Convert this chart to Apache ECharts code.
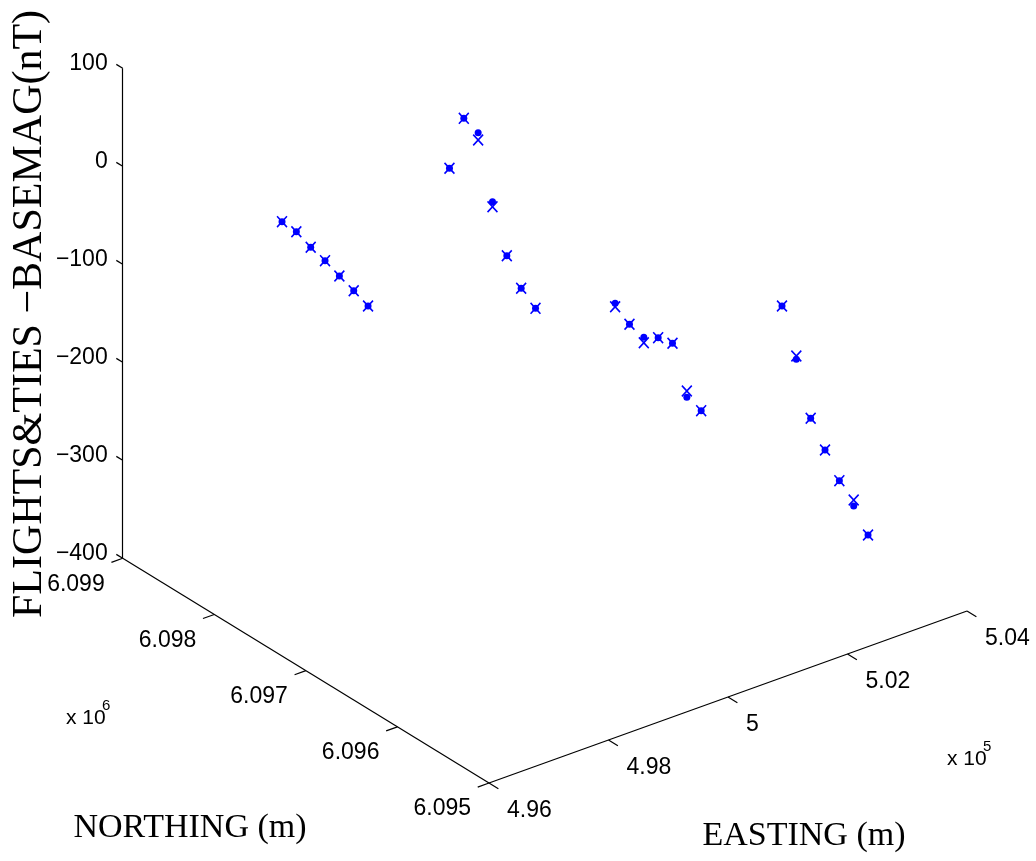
<!DOCTYPE html>
<html>
<head>
<meta charset="utf-8">
<script src="https://cdn.jsdelivr.net/npm/echarts@6/dist/echarts.min.js"></script>
<style>
  html, body { margin: 0; padding: 0; background: #fff; }
  #chart { width: 1036px; height: 861px; }
</style>
</head>
<body>
<div id="chart"></div>
<script>
// survey points (4 lines x 7 stations)
const easting = [
  497900, 498140, 498380, 498620, 498860, 499100, 499340,
  499170, 499410, 499650, 499890, 500130, 500370, 500610,
  500410, 500650, 500890, 501130, 501370, 501610, 501850,
  501670, 501910, 502150, 502390, 502630, 502870, 503110
];
const northing = [
  6098500, 6098500, 6098500, 6098500, 6098500, 6098500, 6098500,
  6097500, 6097500, 6097500, 6097500, 6097500, 6097500, 6097500,
  6096500, 6096500, 6096500, 6096500, 6096500, 6096500, 6096500,
  6095500, 6095500, 6095500, 6095500, 6095500, 6095500, 6095500
];
// FLIGHTS - BASEMAG (x markers)
const flights = [
  -69.5, -85.0, -106.2, -125.1, -146.0, -166.3, -187.2,
  14.4, 60.1, 32.7, -40.6, -95.9, -134.4, -160.1,
  -96.7, -119.9, -144.0, -144.1, -155.1, -209.1, -234.4,
  -66.3, -122.6, -191.4, -229.0, -265.6, -290.6, -331.6
];
// TIES - BASEMAG (dots)
const ties = [
  -69.5, -85.0, -106.2, -125.1, -146.0, -166.3, -187.2,
  14.4, 60.1, 40.2, -35.5, -95.9, -134.4, -160.1,
  -93.2, -119.9, -138.5, -144.1, -155.1, -215.5, -234.4,
  -66.3, -126.0, -191.4, -229.0, -265.6, -296.7, -331.6
];

// axis ticks
const zTicks = [-400, -300, -200, -100, 0, 100];
const northTicks = [6095000, 6096000, 6097000, 6098000, 6099000];
const northLabels = ["6.095", "6.096", "6.097", "6.098", "6.099"];
const eastTicks = [496000, 498000, 500000, 502000, 504000];
const eastLabels = ["4.96", "4.98", "5", "5.02", "5.04"];

const E_MIN = 496000, E_MAX = 504000;
const N_MIN = 6095000, N_MAX = 6099000;
const Z_MIN = -400, Z_MAX = 100;

// projected box (screen px)
const W = 1036, H = 861;
const ORIGIN = [122.7, 558.3];
const E_VEC = [478, -172];
const N_VEC = [366.3, 224.7];
const Z_LEN = 490;

function proj(e, n, z) {
  const fe = (e - E_MIN) / (E_MAX - E_MIN);
  const fn = (N_MAX - n) / (N_MAX - N_MIN);
  const fz = (z - Z_MIN) / (Z_MAX - Z_MIN);
  return [
    ORIGIN[0] + fe * E_VEC[0] + fn * N_VEC[0],
    ORIGIN[1] + fe * E_VEC[1] + fn * N_VEC[1] - fz * Z_LEN,
  ];
}

function unit(v) {
  const l = Math.sqrt(v[0] * v[0] + v[1] * v[1]);
  return [v[0] / l, v[1] / l];
}
const uE = unit(E_VEC);
const uN = unit(N_VEC);

function seg(p, dir, len) {
  return { coords: [p, [p[0] + dir[0] * len, p[1] + dir[1] * len]] };
}

// axis lines
const axisLines = [
  { coords: [proj(E_MIN, N_MAX, Z_MIN), proj(E_MIN, N_MAX, Z_MAX)] },
  { coords: [proj(E_MIN, N_MAX, Z_MIN), proj(E_MIN, N_MIN, Z_MIN)] },
  { coords: [proj(E_MIN, N_MIN, Z_MIN), proj(E_MAX, N_MIN, Z_MIN)] },
];
const tickLines = [];
zTicks.forEach((z) => tickLines.push(seg(proj(E_MIN, N_MAX, z), [-uN[0], -uN[1]], 7.5)));
northTicks.forEach((n) => tickLines.push(seg(proj(E_MIN, n, Z_MIN), [-uE[0], -uE[1]], 12)));
eastTicks.forEach((e) => tickLines.push(seg(proj(e, N_MIN, Z_MIN), uN, 11)));

const flightPts = flights.map((z, i) => proj(easting[i], northing[i], z));
const tiePts = ties.map((z, i) => proj(easting[i], northing[i], z));

const zLabelData = zTicks.map((z) => proj(E_MIN, N_MAX, z).concat([(z < 0 ? "\u2212" : "") + Math.abs(z)]));
const nLabelData = northTicks.map((n, i) => proj(E_MIN, n, Z_MIN).concat([northLabels[i]]));
const eLabelData = eastTicks.map((e, i) => proj(e, N_MIN, Z_MIN).concat([eastLabels[i]]));

const tickFont = { fontFamily: "Liberation Sans", fontSize: 23, color: "#000" };

function labelSeries(data, align, offset) {
  return {
    type: "scatter",
    data: data,
    symbolSize: 0,
    silent: true,
    itemStyle: { opacity: 1 },
    label: Object.assign({
      show: true,
      position: "inside",
      align: align,
      verticalAlign: "middle",
      offset: offset,
      formatter: (p) => p.value[2],
    }, tickFont),
  };
}

const X_MARK = "path://M0,1L1,0L5,4L9,0L10,1L6,5L10,9L9,10L5,6L1,10L0,9L4,5Z";

const option = {
  animation: false,
  grid: { left: 0, right: 0, top: 0, bottom: 0 },
  xAxis: { type: "value", min: 0, max: W, show: false },
  yAxis: { type: "value", min: 0, max: H, inverse: true, show: false },
  series: [
    {
      type: "lines",
      coordinateSystem: "cartesian2d",
      data: axisLines.concat(tickLines),
      lineStyle: { color: "#000", width: 1.2, opacity: 1 },
      silent: true,
    },
    labelSeries(zLabelData, "right", [-15, -5]),
    labelSeries(nLabelData, "right", [-18, 26]),
    labelSeries(eLabelData, "left", [18, 28]),
    {
      type: "scatter",
      name: "TIES",
      data: tiePts,
      symbol: "circle",
      symbolSize: 7,
      itemStyle: { color: "#0000ff", opacity: 1 },
    },
    {
      type: "scatter",
      name: "FLIGHTS",
      data: flightPts,
      symbol: X_MARK,
      symbolSize: [11, 12],
      itemStyle: { color: "#0000ff", opacity: 1 },
    },
  ],
  graphic: [
    {
      type: "text", x: 30, y: 314, rotation: Math.PI / 2,
      style: { text: "FLIGHTS&TIES \u2212BASEMAG(nT)", font: '42px "Liberation Serif"', fill: "#000", align: "center", verticalAlign: "middle" },
    },
    {
      type: "text", x: 190, y: 828,
      style: { text: "NORTHING (m)", font: '34px "Liberation Serif"', fill: "#000", align: "center", verticalAlign: "middle" },
    },
    {
      type: "text", x: 804, y: 836,
      style: { text: "EASTING (m)", font: '34px "Liberation Serif"', fill: "#000", align: "center", verticalAlign: "middle" },
    },
    { type: "text", x: 66, y: 718, style: { text: "x 10", font: '21px "Liberation Sans"', fill: "#000", align: "left", verticalAlign: "middle" } },
    { type: "text", x: 102, y: 706, style: { text: "6", font: '15px "Liberation Sans"', fill: "#000", align: "left", verticalAlign: "middle" } },
    { type: "text", x: 947, y: 759, style: { text: "x 10", font: '21px "Liberation Sans"', fill: "#000", align: "left", verticalAlign: "middle" } },
    { type: "text", x: 983, y: 747, style: { text: "5", font: '15px "Liberation Sans"', fill: "#000", align: "left", verticalAlign: "middle" } },
  ],
};

const chart = echarts.init(document.getElementById("chart"));
chart.setOption(option);
</script>
</body>
</html>
